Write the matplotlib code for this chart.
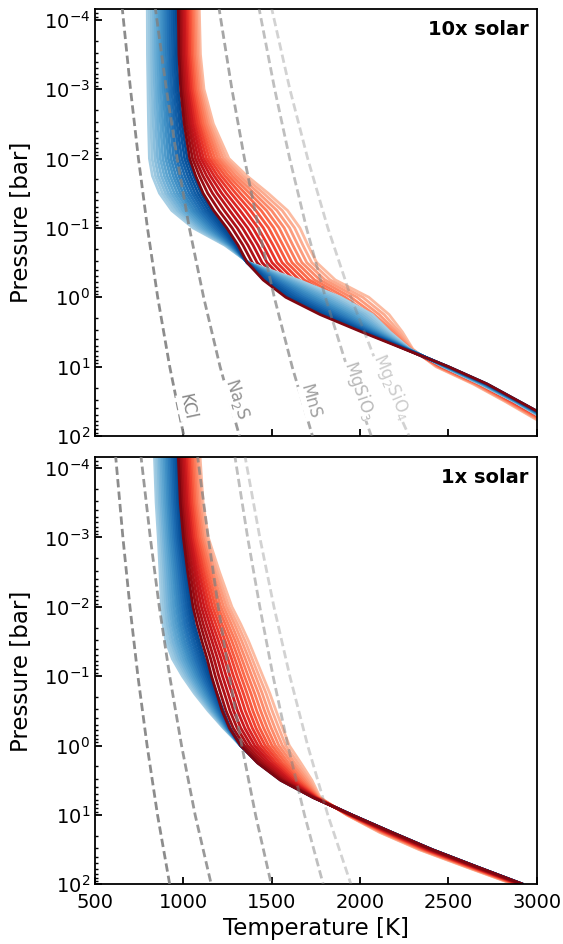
import matplotlib

matplotlib.use("Agg")

import matplotlib.pyplot as plt
import numpy as np

log_p_levels = np.array([-4.2, -3.5, -3, -2.5, -2, -1.75, -1.5, -1.25, -1, -0.75, -0.5,
                         -0.25, 0, 0.25, 0.5, 0.75, 1, 1.25, 1.5, 1.75, 2])

# temperatures [K]: one row per pressure level, one column per profile (light -> dark)
temp_blue_10x = np.array([
    [796, 808, 819, 831, 843, 855, 866, 878, 890, 901, 913, 925, 937, 948, 960],
    [797, 809, 821, 833, 844, 856, 868, 880, 892, 904, 916, 927, 939, 951, 963],
    [800, 812, 824, 837, 849, 861, 873, 886, 898, 910, 922, 934, 947, 959, 971],
    [803, 817, 830, 844, 857, 871, 884, 898, 911, 925, 938, 952, 965, 979, 992],
    [808, 823, 839, 854, 869, 884, 900, 915, 930, 946, 961, 976, 991, 1007, 1022],
    [825, 842, 858, 875, 892, 908, 925, 942, 958, 975, 991, 1008, 1025, 1041, 1058],
    [865, 882, 899, 915, 932, 949, 966, 983, 999, 1016, 1033, 1050, 1066, 1083, 1100],
    [935, 951, 967, 983, 999, 1015, 1031, 1047, 1062, 1078, 1094, 1110, 1126, 1142, 1158],
    [1055, 1068, 1080, 1093, 1106, 1118, 1131, 1144, 1156, 1169, 1181, 1194, 1207, 1219, 1232],
    [1235, 1240, 1244, 1249, 1254, 1258, 1263, 1268, 1272, 1277, 1281, 1286, 1291, 1295, 1300],
    [1370, 1369, 1369, 1368, 1367, 1366, 1366, 1365, 1364, 1364, 1363, 1362, 1361, 1361, 1360],
    [1650, 1636, 1623, 1609, 1595, 1581, 1568, 1554, 1540, 1527, 1513, 1499, 1485, 1472, 1458],
    [1890, 1869, 1847, 1826, 1805, 1784, 1762, 1741, 1720, 1698, 1677, 1656, 1635, 1613, 1592],
    [2070, 2050, 2030, 2010, 1990, 1970, 1950, 1930, 1910, 1890, 1870, 1850, 1830, 1810, 1790],
    [2170, 2159, 2149, 2138, 2127, 2116, 2106, 2095, 2084, 2074, 2063, 2052, 2041, 2031, 2020],
    [2285, 2283, 2282, 2280, 2278, 2277, 2275, 2274, 2272, 2270, 2269, 2267, 2265, 2264, 2262],
    [2470, 2472, 2474, 2476, 2479, 2481, 2483, 2485, 2487, 2489, 2491, 2494, 2496, 2498, 2500],
    [2680, 2683, 2686, 2689, 2691, 2694, 2697, 2700, 2703, 2706, 2709, 2711, 2714, 2717, 2720],
    [2870, 2872, 2874, 2876, 2879, 2881, 2883, 2885, 2887, 2889, 2891, 2894, 2896, 2898, 2900],
    [3040, 3043, 3046, 3049, 3051, 3054, 3057, 3060, 3063, 3066, 3069, 3071, 3074, 3077, 3080],
    [3220, 3223, 3226, 3229, 3231, 3234, 3237, 3240, 3243, 3246, 3249, 3251, 3254, 3257, 3260],
])

temp_red_10x = np.array([
    [1090, 1082, 1073, 1065, 1056, 1048, 1039, 1031, 1022, 1014, 1005, 997, 988, 980, 971],
    [1097, 1088, 1080, 1071, 1062, 1053, 1045, 1036, 1027, 1019, 1010, 1001, 992, 984, 975],
    [1117, 1108, 1099, 1089, 1080, 1070, 1061, 1051, 1042, 1032, 1023, 1013, 1004, 994, 985],
    [1170, 1158, 1146, 1135, 1123, 1111, 1099, 1088, 1076, 1064, 1052, 1040, 1029, 1017, 1005],
    [1258, 1242, 1226, 1210, 1195, 1179, 1163, 1147, 1131, 1115, 1100, 1084, 1068, 1052, 1036],
    [1360, 1339, 1319, 1298, 1277, 1256, 1236, 1215, 1194, 1174, 1153, 1132, 1111, 1091, 1070],
    [1480, 1454, 1427, 1401, 1375, 1349, 1322, 1296, 1270, 1243, 1217, 1191, 1165, 1138, 1112],
    [1590, 1560, 1530, 1500, 1471, 1441, 1411, 1381, 1351, 1321, 1291, 1262, 1232, 1202, 1172],
    [1660, 1630, 1601, 1571, 1542, 1512, 1483, 1453, 1423, 1394, 1364, 1335, 1305, 1276, 1246],
    [1705, 1677, 1649, 1620, 1592, 1564, 1536, 1508, 1479, 1451, 1423, 1395, 1366, 1338, 1310],
    [1755, 1727, 1699, 1671, 1643, 1615, 1587, 1559, 1530, 1502, 1474, 1446, 1418, 1390, 1362],
    [1860, 1831, 1802, 1773, 1743, 1714, 1685, 1656, 1627, 1598, 1569, 1540, 1510, 1481, 1452],
    [2050, 2016, 1983, 1949, 1916, 1882, 1849, 1815, 1781, 1748, 1714, 1681, 1647, 1614, 1580],
    [2165, 2137, 2109, 2081, 2054, 2026, 1998, 1970, 1942, 1914, 1886, 1859, 1831, 1803, 1775],
    [2240, 2224, 2207, 2191, 2174, 2158, 2141, 2125, 2109, 2092, 2076, 2059, 2043, 2026, 2010],
    [2300, 2297, 2294, 2290, 2287, 2284, 2281, 2278, 2274, 2271, 2268, 2265, 2261, 2258, 2255],
    [2430, 2435, 2440, 2445, 2450, 2455, 2460, 2465, 2470, 2475, 2480, 2485, 2490, 2495, 2500],
    [2640, 2646, 2651, 2657, 2663, 2669, 2674, 2680, 2686, 2691, 2697, 2703, 2709, 2714, 2720],
    [2820, 2826, 2831, 2837, 2843, 2849, 2854, 2860, 2866, 2871, 2877, 2883, 2889, 2894, 2900],
    [2990, 2996, 3003, 3009, 3016, 3022, 3029, 3035, 3041, 3048, 3054, 3061, 3067, 3074, 3080],
    [3170, 3176, 3183, 3189, 3196, 3202, 3209, 3215, 3221, 3228, 3234, 3241, 3247, 3254, 3260],
])

temp_blue_1x = np.array([
    [836, 845, 855, 864, 873, 882, 892, 901, 910, 919, 929, 938, 947, 957, 966],
    [846, 855, 865, 874, 883, 893, 902, 912, 921, 930, 940, 949, 958, 968, 977],
    [858, 868, 877, 887, 896, 906, 915, 925, 934, 944, 953, 963, 972, 982, 991],
    [868, 879, 890, 900, 911, 922, 933, 944, 954, 965, 976, 987, 997, 1008, 1019],
    [876, 888, 900, 912, 924, 936, 948, 961, 973, 985, 997, 1009, 1021, 1033, 1045],
    [885, 898, 910, 923, 936, 948, 961, 974, 986, 999, 1011, 1024, 1037, 1049, 1062],
    [902, 915, 929, 942, 956, 969, 983, 996, 1009, 1023, 1036, 1050, 1063, 1077, 1090],
    [938, 951, 964, 977, 990, 1003, 1016, 1029, 1042, 1055, 1068, 1081, 1094, 1107, 1120],
    [995, 1006, 1017, 1029, 1040, 1051, 1062, 1074, 1085, 1096, 1107, 1118, 1130, 1141, 1152],
    [1063, 1072, 1081, 1090, 1099, 1108, 1117, 1127, 1136, 1145, 1154, 1163, 1172, 1181, 1190],
    [1141, 1147, 1153, 1159, 1165, 1171, 1177, 1184, 1190, 1196, 1202, 1208, 1214, 1220, 1226],
    [1228, 1231, 1233, 1236, 1239, 1242, 1244, 1247, 1250, 1252, 1255, 1258, 1261, 1263, 1266],
    [1325, 1325, 1325, 1325, 1325, 1325, 1325, 1325, 1325, 1325, 1325, 1325, 1325, 1325, 1325],
    [1445, 1443, 1442, 1440, 1438, 1437, 1435, 1434, 1432, 1430, 1429, 1427, 1425, 1424, 1422],
    [1580, 1578, 1576, 1574, 1572, 1570, 1568, 1566, 1564, 1562, 1560, 1558, 1556, 1554, 1552],
    [1750, 1749, 1748, 1747, 1746, 1745, 1744, 1744, 1743, 1742, 1741, 1740, 1739, 1738, 1737],
    [1950, 1950, 1951, 1951, 1951, 1952, 1952, 1953, 1953, 1953, 1954, 1954, 1954, 1955, 1955],
    [2170, 2171, 2171, 2172, 2173, 2174, 2174, 2175, 2176, 2176, 2177, 2178, 2179, 2179, 2180],
    [2400, 2401, 2401, 2402, 2403, 2404, 2404, 2405, 2406, 2406, 2407, 2408, 2409, 2409, 2410],
    [2655, 2656, 2656, 2657, 2658, 2659, 2659, 2660, 2661, 2661, 2662, 2663, 2664, 2664, 2665],
    [2918, 2918, 2919, 2919, 2920, 2920, 2921, 2921, 2921, 2922, 2922, 2923, 2923, 2924, 2924],
])

temp_red_1x = np.array([
    [1094, 1085, 1076, 1068, 1059, 1050, 1041, 1033, 1024, 1015, 1006, 997, 989, 980, 971],
    [1112, 1103, 1094, 1084, 1075, 1066, 1057, 1048, 1038, 1029, 1020, 1011, 1001, 992, 983],
    [1141, 1131, 1121, 1111, 1101, 1091, 1081, 1071, 1060, 1050, 1040, 1030, 1020, 1010, 1000],
    [1205, 1192, 1179, 1166, 1154, 1141, 1128, 1115, 1102, 1089, 1076, 1064, 1051, 1038, 1025],
    [1275, 1259, 1244, 1228, 1212, 1196, 1181, 1165, 1149, 1134, 1118, 1102, 1086, 1071, 1055],
    [1325, 1307, 1290, 1272, 1254, 1237, 1219, 1202, 1184, 1166, 1149, 1131, 1113, 1096, 1078],
    [1370, 1351, 1332, 1313, 1295, 1276, 1257, 1238, 1219, 1200, 1181, 1163, 1144, 1125, 1106],
    [1410, 1390, 1371, 1351, 1331, 1312, 1292, 1273, 1253, 1233, 1214, 1194, 1174, 1155, 1135],
    [1450, 1429, 1409, 1388, 1367, 1346, 1326, 1305, 1284, 1264, 1243, 1222, 1201, 1181, 1160],
    [1490, 1469, 1447, 1426, 1404, 1383, 1361, 1340, 1319, 1297, 1276, 1254, 1233, 1211, 1190],
    [1525, 1503, 1481, 1460, 1438, 1416, 1394, 1373, 1351, 1329, 1307, 1285, 1264, 1242, 1220],
    [1562, 1541, 1519, 1498, 1476, 1455, 1433, 1412, 1391, 1369, 1348, 1326, 1305, 1283, 1262],
    [1600, 1580, 1561, 1541, 1521, 1502, 1482, 1463, 1443, 1423, 1404, 1384, 1364, 1345, 1325],
    [1665, 1648, 1630, 1613, 1595, 1578, 1560, 1543, 1525, 1508, 1490, 1473, 1455, 1438, 1420],
    [1728, 1715, 1703, 1690, 1677, 1664, 1652, 1639, 1626, 1614, 1601, 1588, 1575, 1563, 1550],
    [1775, 1772, 1769, 1766, 1764, 1761, 1758, 1755, 1752, 1749, 1746, 1744, 1741, 1738, 1735],
    [1925, 1927, 1929, 1931, 1934, 1936, 1938, 1940, 1942, 1944, 1946, 1949, 1951, 1953, 1955],
    [2110, 2115, 2120, 2125, 2130, 2135, 2140, 2145, 2150, 2155, 2160, 2165, 2170, 2175, 2180],
    [2335, 2340, 2346, 2351, 2356, 2362, 2367, 2373, 2378, 2383, 2389, 2394, 2399, 2405, 2410],
    [2600, 2605, 2609, 2614, 2619, 2623, 2628, 2633, 2637, 2642, 2646, 2651, 2656, 2660, 2665],
    [2870, 2874, 2878, 2882, 2885, 2889, 2893, 2897, 2901, 2905, 2909, 2912, 2916, 2920, 2924],
])

# condensation curves, read at whole decades of pressure
cond_species = ["KCl", "Na$_2$S", "MnS", "MgSiO$_3$", "Mg$_2$SiO$_4$"]
cond_log_p = np.array([-4.2, -3, -2, -1, 0, 1, 2])
cond_temp_10x = np.array([
    [653, 701, 746, 797, 855, 923, 1003],
    [840, 904, 965, 1034, 1115, 1208, 1318],
    [1200, 1275, 1346, 1426, 1515, 1616, 1731],
    [1426, 1517, 1602, 1697, 1804, 1926, 2064],
    [1497, 1603, 1704, 1818, 1949, 2101, 2278],
])
cond_temp_1x = np.array([
    [616, 658, 698, 743, 795, 854, 923],
    [759, 813, 864, 923, 990, 1067, 1158],
    [1079, 1141, 1198, 1261, 1331, 1409, 1498],
    [1290, 1364, 1433, 1508, 1592, 1686, 1792],
    [1347, 1433, 1513, 1603, 1704, 1818, 1949],
])

cond_alpha = [0.9, 0.8, 0.7, 0.5, 0.35]
# where the species names sit in the top panel: (T, log P, rotation)
label_spots = [(1022, 1.58, -78), (1305, 1.46, -72), (1720, 1.51, -74),
               (1995, 1.34, -71), (2183, 1.29, -67)]

plt.rcParams["font.family"] = "DejaVu Sans"


def draw_panel(ax, blue, red, cond, tag, with_labels, red_on_top):
    p = 10.0 ** log_p_levels
    n = blue.shape[1]
    blues = plt.cm.Blues(np.linspace(0.35, 0.9, n))
    reds = plt.cm.Reds(np.linspace(0.25, 0.95, n))
    kw = dict(lw=2.0, solid_capstyle="butt", solid_joinstyle="round", zorder=2)

    if red_on_top:
        for i in range(n):
            ax.plot(blue[:, i], p, color=blues[i], **kw)
        for i in range(n):
            ax.plot(red[:, i], p, color=reds[i], **kw)
    else:
        # blue fan over the red one, darkest red profile last
        for i in range(n - 1):
            ax.plot(red[:, i], p, color=reds[i], **kw)
        for i in range(n):
            ax.plot(blue[:, i], p, color=blues[i], **kw)
        ax.plot(red[:, -1], p, color=reds[-1], **kw)

    pc = 10.0 ** cond_log_p
    for k in range(len(cond_species)):
        ax.plot(cond[k], pc, color="gray", alpha=cond_alpha[k], lw=2.0,
                ls=(0, (3, 1.5)), zorder=3)
        if with_labels:
            t, lp, rot = label_spots[k]
            ax.text(t, 10.0 ** lp, cond_species[k], color="gray",
                    alpha=min(1.0, cond_alpha[k] + 0.05), fontsize=12,
                    rotation=rot, rotation_mode="anchor", ha="center", va="center",
                    zorder=4, bbox=dict(fc="white", ec="none", pad=0.2))

    ax.set_yscale("log")
    ax.set_xlim(500, 3000)
    ax.set_ylim(100, 10 ** -4.154)
    ax.set_yticks([1e-4, 1e-3, 1e-2, 1e-1, 1e0, 1e1, 1e2])
    ax.set_xticks([500, 1000, 1500, 2000, 2500, 3000])
    ax.tick_params(which="major", direction="in", length=5, width=1.3, labelsize=14)
    ax.tick_params(which="minor", direction="in", length=2.5, width=1.0)
    ax.tick_params(axis="x", which="minor", bottom=False)
    ax.tick_params(axis="x", pad=6)
    for s in ax.spines.values():
        s.set_linewidth(1.3)
    ax.set_ylabel("Pressure [bar]", fontsize=16.5, labelpad=8)
    ax.text(0.982, 0.975, tag, transform=ax.transAxes, ha="right", va="top",
            fontsize=14, fontweight="bold", zorder=5)


fig = plt.figure(figsize=(5.63, 9.44), dpi=100)
ax_top = fig.add_axes([0.1687, 0.5381, 0.7845, 0.4523])
ax_bot = fig.add_axes([0.1687, 0.0632, 0.7845, 0.4523])

draw_panel(ax_top, temp_blue_10x, temp_red_10x, cond_temp_10x, "10x solar", True, False)
draw_panel(ax_bot, temp_blue_1x, temp_red_1x, cond_temp_1x, "1x solar", False, True)

ax_top.tick_params(axis="x", labelbottom=False)
ax_bot.set_xlabel("Temperature [K]", fontsize=16.5)

fig.savefig("out.png", dpi=100)
plt.close(fig)
